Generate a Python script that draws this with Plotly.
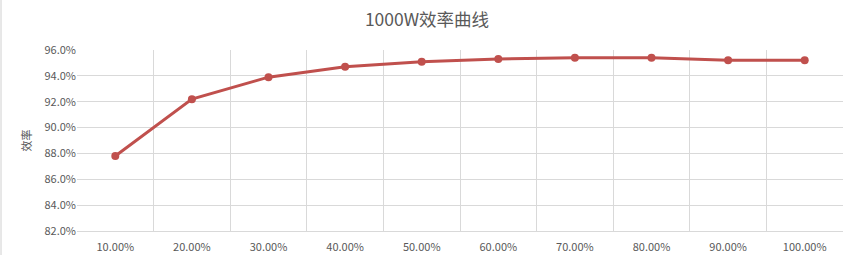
import plotly.graph_objects as go

categories = ["10.00%", "20.00%", "30.00%", "40.00%", "50.00%", "60.00%", "70.00%", "80.00%", "90.00%", "100.00%"]
efficiency = [0.878, 0.922, 0.939, 0.947, 0.951, 0.953, 0.954, 0.954, 0.952, 0.952]
y_ticks = [0.82, 0.84, 0.86, 0.88, 0.90, 0.92, 0.94, 0.96]

FONT = "Noto Sans CJK SC, Lato, sans-serif"
GRID = "#D9D9D9"
TXT = "#595959"

fig = go.Figure()
fig.add_trace(go.Scatter(
    x=categories, y=efficiency, mode="lines+markers",
    line=dict(color="#C0504D", width=3),
    marker=dict(color="#C0504D", size=8),
    showlegend=False,
))

fig.update_layout(
    width=854, height=255,
    margin=dict(l=77, r=11, t=50, b=24, autoexpand=False),
    paper_bgcolor="white", plot_bgcolor="white",
    title=dict(text="1000W效率曲线", x=0.5, xanchor="center", y=1 - 20/255, yanchor="middle",
               font=dict(family=FONT, size=17.5, color=TXT)),
    font=dict(family=FONT, size=11, color=TXT),
    xaxis=dict(type="category", tickson="boundaries", showgrid=True, gridcolor=GRID, gridwidth=1,
               ticks="", showline=True, linecolor=GRID, mirror=False, range=[-0.5, 9.5],
               tickfont=dict(size=11, color=TXT), ticklabelstandoff=6, automargin=False),
    yaxis=dict(range=[0.82, 0.96], tickvals=y_ticks, tickformat=".1%", showgrid=True, gridcolor=GRID,
               zeroline=False, showline=False, ticks="", tickfont=dict(size=11, color=TXT),
               automargin=False,
               title=dict(text="效率", font=dict(size=11, color=TXT), standoff=10)),
)

# worksheet edge line at far left
fig.add_shape(type="line", xref="paper", yref="paper", x0=-76/766, x1=-76/766, y0=-24/181, y1=1 + 50/181,
              line=dict(color="#D0D0D0", width=1))

fig.write_html("out.html")
